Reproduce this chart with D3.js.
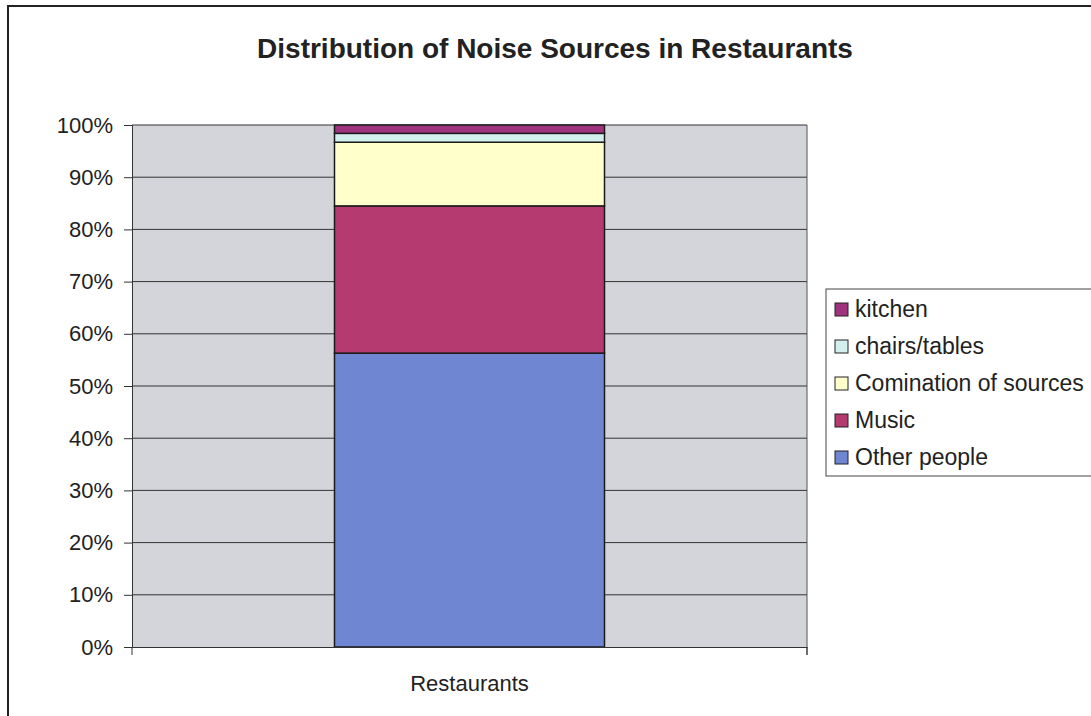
<!DOCTYPE html>
<html>
<head>
<meta charset="utf-8">
<script src="https://cdn.jsdelivr.net/npm/d3@7"></script>
<style>
  body { margin: 0; background: #fff; }
  svg { display: block; font-family: "Liberation Sans", Arial, sans-serif; }
</style>
</head>
<body>
<svg class="noiseChart"></svg>
<script>
// stacked bar, single category (percent)
const categories = ["Restaurants"];
const seriesNames = ["Other people", "Music", "Comination of sources", "chairs/tables", "kitchen"];
const seriesValues = [56.3, 28.2, 12.2, 1.7, 1.6];
const seriesColors = ["#6f86d2", "#b53a70", "#ffffcc", "#d3efee", "#a0337e"];
const yTicks = [0, 10, 20, 30, 40, 50, 60, 70, 80, 90, 100];

const width = 1091, height = 716;
const plot = { left: 132, right: 807, top: 125, bottom: 647 };

const svg = d3.select("svg.noiseChart")
    .attr("width", width)
    .attr("height", height);

// outer chart frame
svg.append("rect")
    .attr("x", 8).attr("y", 6)
    .attr("width", width + 10).attr("height", height + 10)
    .attr("fill", "#fff")
    .attr("stroke", "#222")
    .attr("stroke-width", 2);

svg.append("text")
    .attr("x", 555).attr("y", 58)
    .attr("text-anchor", "middle")
    .attr("font-size", 28)
    .attr("font-weight", "bold")
    .attr("fill", "#222")
    .text("Distribution of Noise Sources in Restaurants");

const x = d3.scaleBand()
    .domain(categories)
    .range([plot.left, plot.right])
    .paddingInner(0)
    .paddingOuter(0.75);

const y = d3.scaleLinear()
    .domain([0, 100])
    .range([plot.bottom, plot.top]);

// plot area background
svg.append("rect")
    .attr("x", plot.left).attr("y", plot.top)
    .attr("width", plot.right - plot.left)
    .attr("height", plot.bottom - plot.top)
    .attr("fill", "#d3d5da");

// gridlines
svg.append("g")
    .selectAll("line")
    .data(yTicks.filter(d => d > 0))
    .join("line")
    .attr("x1", plot.left).attr("x2", plot.right)
    .attr("y1", d => y(d)).attr("y2", d => y(d))
    .attr("stroke", "#333")
    .attr("stroke-width", 1);

// stack the series
const row = { cat: categories[0] };
seriesNames.forEach((n, i) => row[n] = seriesValues[i]);
const stacked = d3.stack().keys(seriesNames)([row]);
const color = d3.scaleOrdinal(seriesNames, seriesColors);

svg.append("g")
    .selectAll("rect")
    .data(stacked)
    .join("rect")
    .attr("x", x(categories[0]))
    .attr("width", x.bandwidth())
    .attr("y", d => y(d[0][1]))
    .attr("height", d => y(d[0][0]) - y(d[0][1]))
    .attr("fill", d => color(d.key))
    .attr("stroke", "#1a1a1a")
    .attr("stroke-width", 1.5);

// right border of plot area
svg.append("line")
    .attr("x1", plot.right).attr("x2", plot.right)
    .attr("y1", plot.top).attr("y2", plot.bottom + 8)
    .attr("stroke", "#555");

// y axis
const yAxis = svg.append("g")
    .attr("transform", `translate(${plot.left},0)`)
    .call(d3.axisLeft(y).tickValues(yTicks).tickFormat(d => d + "%").tickSize(8).tickPadding(11));
yAxis.select(".domain").attr("stroke", "#333");
yAxis.selectAll(".tick line").attr("stroke", "#333");
yAxis.selectAll("text").attr("font-size", 22).attr("fill", "#222")
    .attr("font-family", "'Liberation Sans', Arial, sans-serif");

// x axis
const xAxis = svg.append("g")
    .attr("transform", `translate(0,${plot.bottom})`)
    .call(d3.axisBottom(x).tickSize(0).tickPadding(28));
xAxis.select(".domain").attr("stroke", "#333");
xAxis.selectAll("text").attr("font-size", 22).attr("fill", "#222")
    .attr("font-family", "'Liberation Sans', Arial, sans-serif");
// end ticks at the category edges
svg.append("g")
    .selectAll("line")
    .data([plot.left, plot.right])
    .join("line")
    .attr("x1", d => d).attr("x2", d => d)
    .attr("y1", plot.bottom).attr("y2", plot.bottom + 8)
    .attr("stroke", "#333");

// legend, reversed order like the reference
const legend = svg.append("g");
legend.append("rect")
    .attr("x", 826).attr("y", 289)
    .attr("width", 270).attr("height", 187)
    .attr("fill", "#fff")
    .attr("stroke", "#444");

const legendItems = legend.selectAll("g")
    .data(seriesNames.slice().reverse())
    .join("g")
    .attr("transform", (d, i) => `translate(835,${309 + i * 37})`);

legendItems.append("rect")
    .attr("x", 0).attr("y", -6)
    .attr("width", 13).attr("height", 13)
    .attr("fill", d => color(d))
    .attr("stroke", "#222");

legendItems.append("text")
    .attr("x", 20).attr("y", 8)
    .attr("font-size", 23)
    .attr("fill", "#222")
    .text(d => d);
</script>
</body>
</html>
